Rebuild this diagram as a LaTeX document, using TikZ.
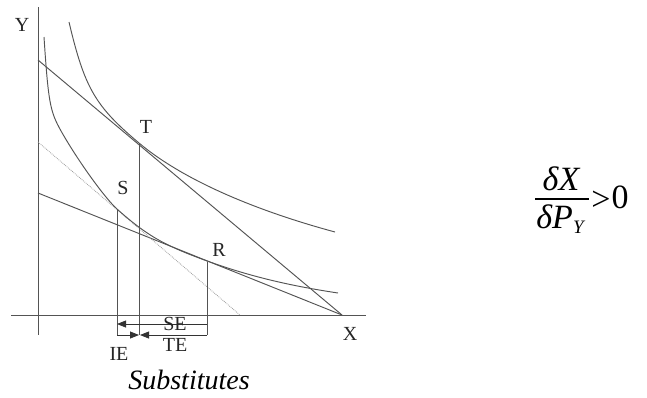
\documentclass[tikz,border=0pt]{standalone}
\usepackage{fontspec}
\setmainfont{Liberation Serif}
\usetikzlibrary{arrows.meta}
\definecolor{ln}{gray}{0.33}
\definecolor{lt}{gray}{0.62}
\begin{document}
\begin{tikzpicture}[x=1pt,y=-1pt,
  lbl/.style={font=\fontsize{20}{20}\selectfont, inner sep=0pt, text=black!85},
  ax/.style={draw=ln, line width=0.95pt},
  crv/.style={draw=ln, line width=0.95pt},
  dropline/.style={draw=ln, line width=0.95pt},
  arr/.style={draw=black!80, line width=0.8pt, -{Triangle[length=9pt,width=7pt]}}]
\useasboundingbox (0,0) rectangle (647,397);
% axes
\coordinate (ytop) at (38,7);
\coordinate (ybot) at (38,335);
\coordinate (xl) at (11,315);
\coordinate (xr) at (366,315);
\draw[ax] (ytop) -- (ybot);
\draw[ax] (xl) -- (xr);
\node[lbl] (Ylab) at (22,25) {Y};
\node[lbl] (Xlab) at (350,334) {X};
% budget lines
\coordinate (b1) at (38,60);
\coordinate (b2) at (38,193);
\coordinate (bx) at (342,315);
\coordinate (c1) at (38,142);
\coordinate (cx) at (240,315);
\draw[crv] (b1) -- (bx);
\draw[crv] (b2) -- (bx);
\draw[draw=lt, line width=0.8pt, densely dotted] (c1) -- (cx);
% points
\coordinate (T) at (139,143);
\coordinate (S) at (117,209);
\coordinate (R) at (207,262);
% outer indifference curve
\draw[crv] (69,22) .. controls (84.6,88) and (95.1,106.1) .. (T)
  .. controls (180.2,177.6) and (248.8,208.7) .. (335,232);
% inner indifference curve
\draw[crv] (44,37) .. controls (48.3,101.8) and (50,111.1) .. (60.5,130)
  .. controls (76.2,158.2) and (104.4,197.7) .. (S)
  .. controls (144.9,234.0) and (161.3,242.6) .. (185,252.5)
  .. controls (239.7,274.6) and (286.9,285.3) .. (338,293);
% drop lines
\coordinate (Tb) at (139,335);
\coordinate (Sb) at (117,335);
\coordinate (Rb) at (207,335);
\coordinate (Sm) at (117,324);
\coordinate (Rm) at (207,324);
\coordinate (Tr) at (140,335);
\draw[dropline] (T) -- (Tb);
\draw[dropline] (S) -- (Sb);
\draw[dropline] (R) -- (Rb);
\node[lbl] (Tlab) at (146,127) {T};
\node[lbl] (Slab) at (123,188) {S};
\node[lbl] (Rlab) at (219,250) {R};
% effects
\draw[arr] (Rm) -- (Sm);
\draw[arr] (Sb) -- (Tb);
\draw[arr] (Rb) -- (Tr);
\node[lbl] (SE) at (175,324) {SE};
\node[lbl] (TE) at (175,345) {TE};
\node[lbl] (IE) at (119,354) {IE};
\node[inner sep=0pt, font=\fontsize{28}{28}\selectfont\itshape] (sub) at (189,380) {Substitutes};
% formula
\node[inner sep=0pt, anchor=base, font=\fontsize{34}{34}\selectfont\itshape] (num) at (561,190) {δX};
\node[inner sep=0pt, anchor=base, font=\fontsize{34}{34}\selectfont\itshape] (den) at (560,228) {δP\raisebox{-5pt}{\fontsize{19}{19}\selectfont Y}};
\coordinate (barl) at (535,199);
\coordinate (barr) at (589,199);
\draw[line width=1.3pt] (barl) -- (barr);
\node[inner sep=0pt, font=\fontsize{34}{34}\selectfont] (gt) at (601,200.5) {>};
\node[inner sep=0pt, anchor=base, font=\fontsize{34}{34}\selectfont] (zero) at (620,208) {0};
\end{tikzpicture}
\end{document}
